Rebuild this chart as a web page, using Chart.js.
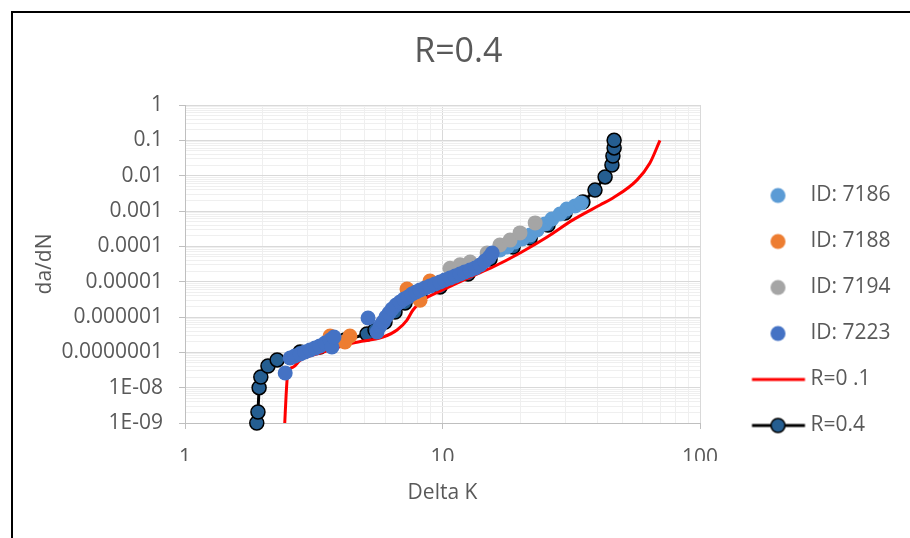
<!DOCTYPE html>
<html>
<head>
<meta charset="utf-8">
<title>R=0.4</title>
<script src="https://cdn.jsdelivr.net/npm/chart.js@4.4.1/dist/chart.umd.min.js"></script>
<style>
    body { margin: 0; background: #ffffff; }
</style>
</head>
<body>
<canvas id="myChart" width="910" height="538"></canvas>
<script>
// values
const yTickLabels = ["1E-09", "1E-08", "0.0000001", "0.000001", "0.00001", "0.0001", "0.001", "0.01", "0.1", "1"];
const xTickLabels = ["1", "10", "100"];

const id7186DeltaK = [16.7, 17.8, 19.1, 20.4, 21.9, 23.3, 25.0, 26.6, 28.6, 30.4, 32.7, 34.5];
const id7186Rate = [7.87e-5, 9.57e-5, 1.33e-4, 1.61e-4, 2.09e-4, 2.9e-4, 4.29e-4, 5.93e-4, 8.2e-4, 1.14e-3, 1.38e-3, 1.68e-3];

const id7188DeltaK = [3.66, 4.18, 4.37, 7.28, 7.68, 8.18, 8.94];
const id7188Rate = [2.9e-7, 1.96e-7, 2.9e-7, 6.2e-6, 4.5e-6, 3.0e-6, 1.04e-5];

const id7194DeltaK = [10.7, 11.7, 12.8, 14.9, 16.7, 18.3, 20.0, 22.9];
const id7194Rate = [2.4e-5, 3.0e-5, 3.6e-5, 6.5e-5, 1.09e-4, 1.5e-4, 2.4e-4, 4.6e-4];

const id7223DeltaK = [2.45, 2.56, 2.67, 2.8, 2.92, 3.06, 3.2, 3.34, 3.5, 3.66, 3.72, 3.79,
    5.14, 5.57, 5.72, 5.87, 6.03, 6.2, 6.37, 6.6, 6.84, 7.09, 7.35, 7.61, 7.89, 8.18, 8.55, 8.94, 9.35, 9.78,
    10.2, 10.7, 11.2, 11.7, 12.2, 12.8, 13.4, 14.0, 14.6, 15.2, 15.6];
const id7223Rate = [2.6e-8, 6.9e-8, 7.9e-8, 8.96e-8, 1.02e-7, 1.16e-7, 1.32e-7, 1.51e-7, 1.84e-7, 2.23e-7, 1.41e-7, 2.71e-7,
    9.4e-7, 3.76e-7, 5.56e-7, 7.2e-7, 1.0e-6, 1.3e-6, 1.68e-6, 2.18e-6, 2.65e-6, 3.23e-6, 3.68e-6, 4.48e-6, 5.1e-6,
    5.8e-6, 6.6e-6, 7.5e-6, 8.6e-6, 9.8e-6, 1.11e-5, 1.27e-5, 1.45e-5, 1.65e-5, 1.88e-5, 2.14e-5, 2.43e-5, 2.96e-5,
    3.84e-5, 4.99e-5, 6.47e-5];

const r01DeltaK = [2.44, 2.47, 2.51, 2.63, 2.8, 3.34, 4.49, 5.87, 6.66, 7.28, 7.68, 8.4, 10.0, 12.8, 15.7, 20.0,
    25.5, 32.1, 40.9, 45.9, 56.9, 63.9, 69.9];
const r01Rate = [1e-9, 6.2e-9, 2.8e-8, 3.8e-8, 6.0e-8, 9.5e-8, 1.84e-7, 2.7e-7, 4.3e-7, 8.2e-7, 1.58e-6, 3.0e-6,
    5.8e-6, 1.35e-5, 2.6e-5, 6.5e-5, 1.84e-4, 5.6e-4, 1.48e-3, 2.33e-3, 7.5e-3, 0.0228, 0.1];

const r04DeltaK = [1.9, 1.92, 1.94, 1.97, 2.1, 2.28, 2.8, 3.34, 4.18, 5.09, 5.47, 5.98, 6.54, 7.15, 8.18, 9.78,
    12.56, 15.3, 18.8, 21.9, 25.7, 29.9, 35.1, 39.1, 42.8, 45.5, 45.9, 46.4, 46.4];
const r04Rate = [1e-9, 2.05e-9, 1e-8, 2e-8, 4.1e-8, 6.1e-8, 1.02e-7, 1.41e-7, 2.23e-7, 3.3e-7, 4.3e-7, 7.2e-7,
    1.38e-6, 2.5e-6, 4.2e-6, 7.1e-6, 1.65e-5, 4.4e-5, 9.6e-5, 1.72e-4, 4.0e-4, 8.8e-4, 1.8e-3, 3.9e-3, 9.2e-3,
    0.02, 0.036, 0.061, 0.1];

const FONT = "'Open Sans', 'DejaVu Sans', sans-serif";
const TEXT = "#595959";
const LEGEND_FONT = 21;
const LEGEND_PAD = 25;
const LEGEND_BOX = 75;
const LEGEND_WIDTH = 210;

function toPoints(xs, ys) {
    return xs.map(function (x, i) {
        return {x: x, y: ys[i]};
    });
}

// 1 = power of ten, 1.5 = the extra tick chart.js adds (hidden), else minor
function tickKind(v) {
    const e = Math.floor(Math.log10(v) + 1e-9);
    const m = v / Math.pow(10, e);
    if (Math.abs(m - 1) < 1e-6) return "major";
    if (Math.abs(m - 1.5) < 1e-6) return "skip";
    return "minor";
}

function gridColor(c) {
    if (!c.tick) return "#ededed";
    const k = tickKind(c.tick.value);
    if (k === "major") return "#d9d9d9";
    if (k === "skip") return "rgba(0,0,0,0)";
    return "#efefef";
}

function tickMarkColor(c) {
    if (!c.tick) return "rgba(0,0,0,0)";
    return tickKind(c.tick.value) === "major" ? "#bfbfbf" : "rgba(0,0,0,0)";
}

// legend markers
function makeIcon(draw) {
    const c = document.createElement("canvas");
    c.width = 100;
    c.height = 20;
    draw(c.getContext("2d"));
    return c;
}

function dotIcon(color) {
    return makeIcon(function (g) {
        g.fillStyle = color;
        g.beginPath();
        g.arc(65.5, 10, 7.5, 0, Math.PI * 2);
        g.fill();
    });
}

function lineIcon(color, dotFill) {
    return makeIcon(function (g) {
        g.strokeStyle = color;
        g.lineWidth = 3;
        g.beginPath();
        g.moveTo(39.5, 10);
        g.lineTo(92.5, 10);
        g.stroke();
        if (dotFill) {
            g.fillStyle = dotFill;
            g.lineWidth = 1.5;
            g.beginPath();
            g.arc(65.5, 10, 7, 0, Math.PI * 2);
            g.fill();
            g.stroke();
        }
    });
}

const legendIcons = [
    dotIcon("#5b9bd5"),
    dotIcon("#ed7d31"),
    dotIcon("#a5a5a5"),
    dotIcon("#4472c4"),
    lineIcon("#ff0000", null),
    lineIcon("#000000", "#255e91")
];

const seriesLabels = ["ID: 7186", "ID: 7188", "ID: 7194", "ID: 7223", "R=0 .1", "R=0.4"];

// legend width chart.js will compute, so the plot ends where the reference does
const measureCtx = document.createElement("canvas").getContext("2d");
measureCtx.font = LEGEND_FONT + "px " + FONT;
let widest = 0;
seriesLabels.forEach(function (t) {
    widest = Math.max(widest, measureCtx.measureText(t).width);
});
const legendNatural = LEGEND_PAD + LEGEND_BOX + LEGEND_FONT / 2 + widest + 10;
const padRight = Math.max(0, LEGEND_WIDTH - legendNatural);

const framePlugin = {
    id: "frame",
    beforeDraw: function (chart) {
        const c = chart.ctx;
        c.save();
        c.fillStyle = "#ffffff";
        c.fillRect(0, 0, chart.width, chart.height);
        c.strokeStyle = "#000000";
        c.lineWidth = 2;
        c.beginPath();
        c.moveTo(12, chart.height);
        c.lineTo(12, 12);
        c.lineTo(chart.width, 12);
        c.stroke();
        c.restore();
    }
};

function scatterSet(i, xs, ys, color, order) {
    return {
        label: seriesLabels[i],
        data: toPoints(xs, ys),
        showLine: false,
        pointRadius: 7.5,
        pointHoverRadius: 7.5,
        pointBackgroundColor: color,
        pointBorderColor: color,
        pointBorderWidth: 0,
        clip: false,
        order: order
    };
}

const ctx = document.getElementById("myChart");

const myChart = new Chart(ctx, {
    type: "scatter",
    data: {
        datasets: [
            scatterSet(0, id7186DeltaK, id7186Rate, "#5b9bd5", 4),
            scatterSet(1, id7188DeltaK, id7188Rate, "#ed7d31", 3),
            scatterSet(2, id7194DeltaK, id7194Rate, "#a5a5a5", 2),
            scatterSet(3, id7223DeltaK, id7223Rate, "#4472c4", 1),
            {
                label: seriesLabels[4],
                data: toPoints(r01DeltaK, r01Rate),
                showLine: true,
                borderColor: "#ff0000",
                borderWidth: 3,
                pointRadius: 0,
                cubicInterpolationMode: "monotone",
                clip: false,
                order: 5
            },
            {
                label: seriesLabels[5],
                data: toPoints(r04DeltaK, r04Rate),
                showLine: true,
                borderColor: "#000000",
                borderWidth: 3,
                pointRadius: 7,
                pointBackgroundColor: "#255e91",
                pointBorderColor: "#000000",
                pointBorderWidth: 1.5,
                clip: false,
                order: 6
            }
        ]
    },
    options: {
        responsive: false,
        animation: false,
        layout: {
            padding: {left: 16, right: padRight, top: 0, bottom: 77}
        },
        plugins: {
            title: {
                display: true,
                text: "R=0.4",
                color: TEXT,
                font: {family: FONT, size: 34, weight: "normal"},
                padding: {top: 31.6, bottom: 32.6}
            },
            legend: {
                position: "right",
                align: "end",
                maxWidth: LEGEND_WIDTH,
                labels: {
                    usePointStyle: true,
                    pointStyleWidth: LEGEND_BOX,
                    padding: LEGEND_PAD,
                    color: TEXT,
                    font: {family: FONT, size: LEGEND_FONT},
                    generateLabels: function (chart) {
                        return chart.data.datasets.map(function (ds, i) {
                            return {
                                text: ds.label,
                                pointStyle: legendIcons[i],
                                fillStyle: "rgba(0,0,0,0)",
                                strokeStyle: "rgba(0,0,0,0)",
                                lineWidth: 0,
                                fontColor: TEXT,
                                hidden: !chart.isDatasetVisible(i),
                                datasetIndex: i
                            };
                        });
                    }
                }
            },
            tooltip: {enabled: false}
        },
        scales: {
            x: {
                type: "logarithmic",
                position: "bottom",
                min: 1,
                max: 100,
                afterFit: function (scale) {
                    scale.height = 38;
                },
                grid: {color: gridColor, tickColor: tickMarkColor, tickLength: 6, lineWidth: 1},
                border: {color: "#bfbfbf", width: 1},
                ticks: {
                    autoSkip: false,
                    maxRotation: 0,
                    padding: 16,
                    color: TEXT,
                    font: {family: FONT, size: 21},
                    callback: function (value) {
                        if (tickKind(value) !== "major") return "";
                        return xTickLabels[Math.round(Math.log10(value))];
                    }
                },
                title: {
                    display: true,
                    text: "Delta K",
                    color: TEXT,
                    font: {family: FONT, size: 21},
                    padding: {top: 0, bottom: -44.6}
                }
            },
            y: {
                type: "logarithmic",
                position: "left",
                min: 1e-9,
                max: 1,
                afterFit: function (scale) {
                    scale.width = 169;
                },
                grid: {color: gridColor, tickColor: tickMarkColor, tickLength: 6, lineWidth: 1},
                border: {color: "#bfbfbf", width: 1},
                ticks: {
                    autoSkip: false,
                    padding: 16,
                    color: TEXT,
                    font: {family: FONT, size: 21},
                    callback: function (value) {
                        if (tickKind(value) !== "major") return "";
                        return yTickLabels[Math.round(Math.log10(value)) + 9];
                    }
                },
                title: {
                    display: true,
                    text: "da/dN",
                    color: TEXT,
                    font: {family: FONT, size: 21},
                    padding: {top: 16.4, bottom: 0}
                }
            }
        }
    },
    plugins: [framePlugin]
});
</script>
</body>
</html>
